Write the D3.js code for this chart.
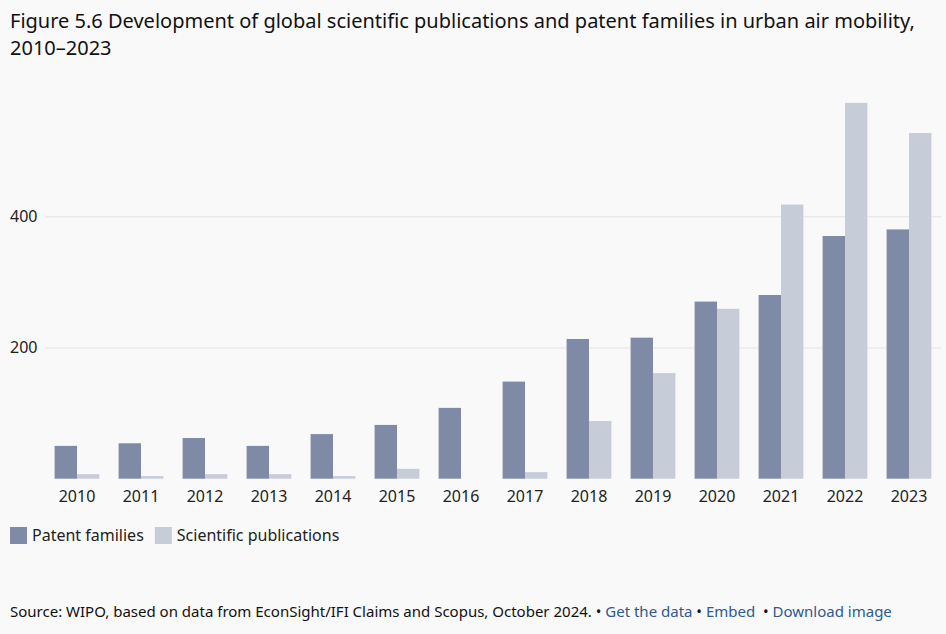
<!DOCTYPE html>
<html>
<meta charset="utf-8">
<title>Urban air mobility</title>
<style>
  body { margin: 0; background: #f9f9f9; font-family: "Noto Sans", sans-serif; }
  #chart { width: 946px; height: 634px; }
  .grid line { stroke: #e3e3e6; }
  .grid .domain { display: none; }
  a { fill: #2e5a8f; }
</style>
<body>
<div id="chart"></div>
<script src="https://d3js.org/d3.v7.min.js"></script>
<script>

const years = ['2010','2011','2012','2013','2014','2015','2016','2017','2018','2019','2020','2021','2022','2023'];
const patents = [50, 54, 62, 50, 68, 82, 108, 148, 213, 215, 270, 280, 370, 380];
const pubs = [7, 4, 7, 7, 4, 15, 0, 10, 88, 161, 259, 418, 573, 527];
const seriesNames = ['Patent families', 'Scientific publications'];
const colors = ['#7f8aa6', '#c6ccd8'];
const yTicks = [200, 400];

const W = 946, H = 634;
const svg = d3.select('#chart').append('svg')
  .attr('width', W).attr('height', H);

// title
const title = svg.append('text')
  .attr('x', 10).attr('y', 28)
  .style('font-size', '20px').style('fill', '#111');
title.append('tspan').attr('x', 10).attr('dy', 0)
  .text('Figure 5.6 Development of global scientific publications and patent families in urban air mobility,');
title.append('tspan').attr('x', 10).attr('dy', 27).text('2010–2023');

const x = d3.scaleBand().domain(years).range([45, 941])
  .paddingInner(0.3).paddingOuter(0.15);
const x1 = d3.scaleBand().domain([0, 1]).range([0, x.bandwidth()]);
const y = d3.scaleLinear().domain([0, 400]).range([478.7, 216.3]);

svg.append('g').attr('class', 'grid')
  .attr('transform', 'translate(45,0)')
  .call(d3.axisRight(y).tickValues(yTicks).tickSize(896).tickFormat(''));

svg.append('g').selectAll('text')
  .data(yTicks).join('text')
  .attr('x', 10).attr('y', d => y(d)).attr('dy', '0.35em')
  .style('font-size', '16px').style('fill', '#222')
  .text(d => d);

const rows = years.map((yr, i) => ({ yr, vals: [patents[i], pubs[i]] }));

const g = svg.append('g').selectAll('g')
  .data(rows).join('g')
  .attr('transform', d => `translate(${x(d.yr)},0)`);

g.selectAll('rect')
  .data(d => d.vals.map((v, k) => ({ v, k })))
  .join('rect')
  .attr('x', d => x1(d.k))
  .attr('width', x1.bandwidth())
  .attr('y', d => y(d.v))
  .attr('height', d => y(0) - y(d.v))
  .attr('fill', d => colors[d.k]);

svg.append('g').selectAll('text')
  .data(years).join('text')
  .attr('x', d => x(d) + x.bandwidth() / 2)
  .attr('y', 502)
  .attr('text-anchor', 'middle')
  .style('font-size', '16px').style('fill', '#222')
  .text(d => d);

// legend
const leg = svg.append('g').attr('transform', 'translate(10,527)');
let lx = 0;
seriesNames.forEach((n, k) => {
  leg.append('rect').attr('x', lx).attr('y', 0).attr('width', 17).attr('height', 17).attr('fill', colors[k]);
  const t = leg.append('text').attr('x', lx + 22).attr('y', 14)
    .style('font-size', '16px').style('fill', '#222').text(n);
  lx += 22 + t.node().getComputedTextLength() + 11;
});

// source
const src = svg.append('text').attr('x', 10).attr('y', 617)
  .style('font-size', '15px').style('fill', '#111')
  .style('white-space', 'pre');
src.append('tspan').text('Source: WIPO, based on data from EconSight/IFI Claims and Scopus, October 2024. • ');
src.append('tspan').style('fill', '#2e5a8f').text('Get the data');
src.append('tspan').text(' • ');
src.append('tspan').style('fill', '#2e5a8f').text('Embed');
src.append('tspan').text('  • ');
src.append('tspan').style('fill', '#2e5a8f').text('Download image');

</script>
</body>
</html>
